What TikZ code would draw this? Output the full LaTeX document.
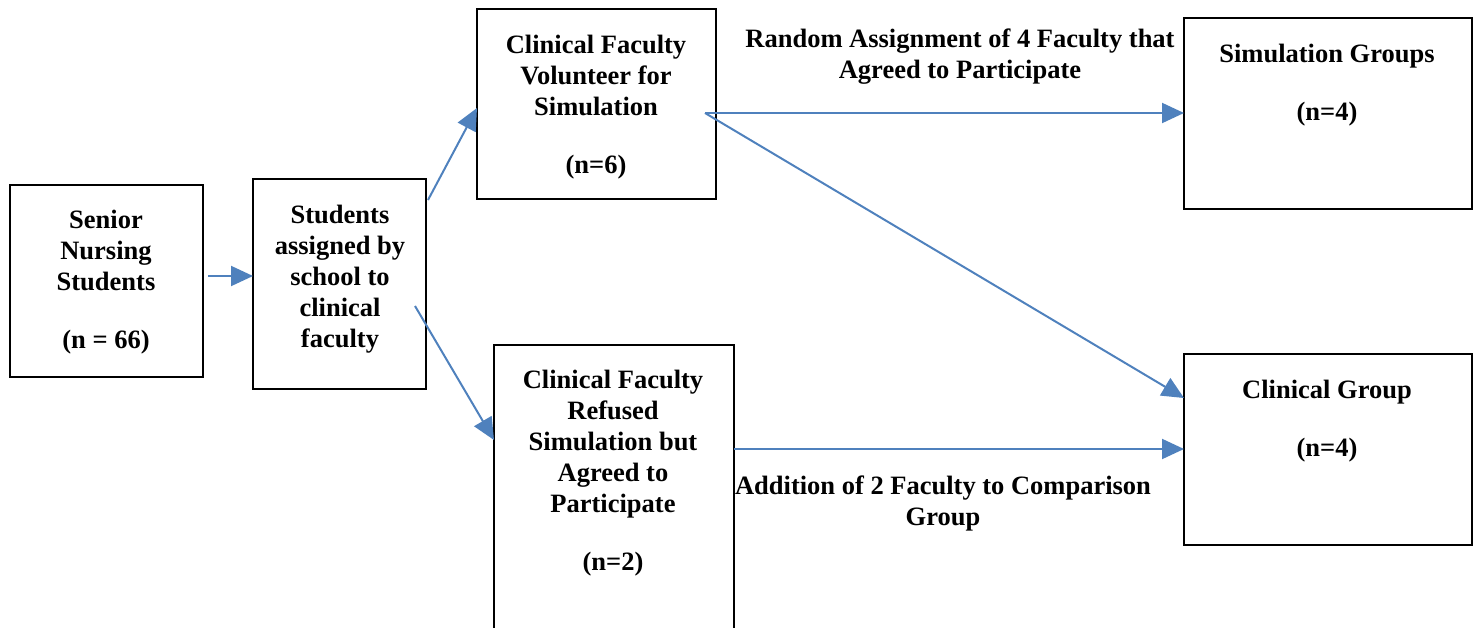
\documentclass[tikz,border=0pt]{standalone}
\usepackage{fontspec}
\setmainfont{Liberation Serif}
\usetikzlibrary{arrows.meta}
\definecolor{arrowblue}{RGB}{79,129,189}
\begin{document}
\begin{tikzpicture}[x=1pt,y=-1pt,
 box/.style={draw=black, line width=1.6pt, inner sep=0pt, outer sep=0pt},
 txt/.style={font=\bfseries\fontsize{26.5}{31}\selectfont, align=center, inner sep=0pt},
 conn/.style={draw=arrowblue, line width=2pt, -{Triangle[length=22pt,width=20pt]}}]
\useasboundingbox (0,0) rectangle (1474,628);
% boxes
\node[box, minimum width=193pt, minimum height=192pt] (sen) at (106.5,281) {};
\node[box, minimum width=173pt, minimum height=210pt] (stu) at (339.5,284) {};
\node[box, minimum width=239pt, minimum height=190pt] (vol) at (596.5,104) {};
\node[box, minimum width=240pt, minimum height=360pt] (ref) at (614,525) {};
\node[box, minimum width=288pt, minimum height=191pt] (sim) at (1328,113.5) {};
\node[box, minimum width=288pt, minimum height=191pt] (cli) at (1328,449.5) {};
% texts
\node[txt] (sent) at (106,282) {Senior\\Nursing\\Students\\[27pt](n = 66)};
\node[txt] (stut) at (340,279) {Students\\assigned by\\school to\\clinical\\faculty};
\node[txt] (volt) at (596,107) {Clinical Faculty\\Volunteer for\\Simulation\\[27pt](n=6)};
\node[txt] (reft) at (613,473) {Clinical Faculty\\Refused\\Simulation but\\Agreed to\\Participate\\[27pt](n=2)};
\node[txt] (simt) at (1327,85) {Simulation Groups\\[27pt](n=4)};
\node[txt] (clit) at (1327,421) {Clinical Group\\[27pt](n=4)};
\node[txt] (lab1) at (960,57) {Random Assignment of 4 Faculty that\\Agreed to Participate};
\node[txt] (lab2) at (943,503) {Addition of 2 Faculty to Comparison\\Group};
% connector helper coordinates
\coordinate (a0) at (208,276);
\coordinate (b0) at (428,200);
\coordinate (b1) at (0,108);
\coordinate (d0) at (415,306);
\coordinate (d1) at (0,440);
\coordinate (vo) at (705,113);
\coordinate (c1) at (0,398);
\coordinate (c2) at (0,449);
% connectors
\draw[conn] (a0) -- (stu.west |- a0);
\draw[conn] (b0) -- (vol.west |- b1);
\draw[conn] (d0) -- (ref.west |- d1);
\draw[conn] (vo) -- (sim.west |- vo);
\draw[conn] (vo) -- (cli.west |- c1);
\draw[conn] (ref.east |- c2) -- (cli.west |- c2);
\end{tikzpicture}
\end{document}
